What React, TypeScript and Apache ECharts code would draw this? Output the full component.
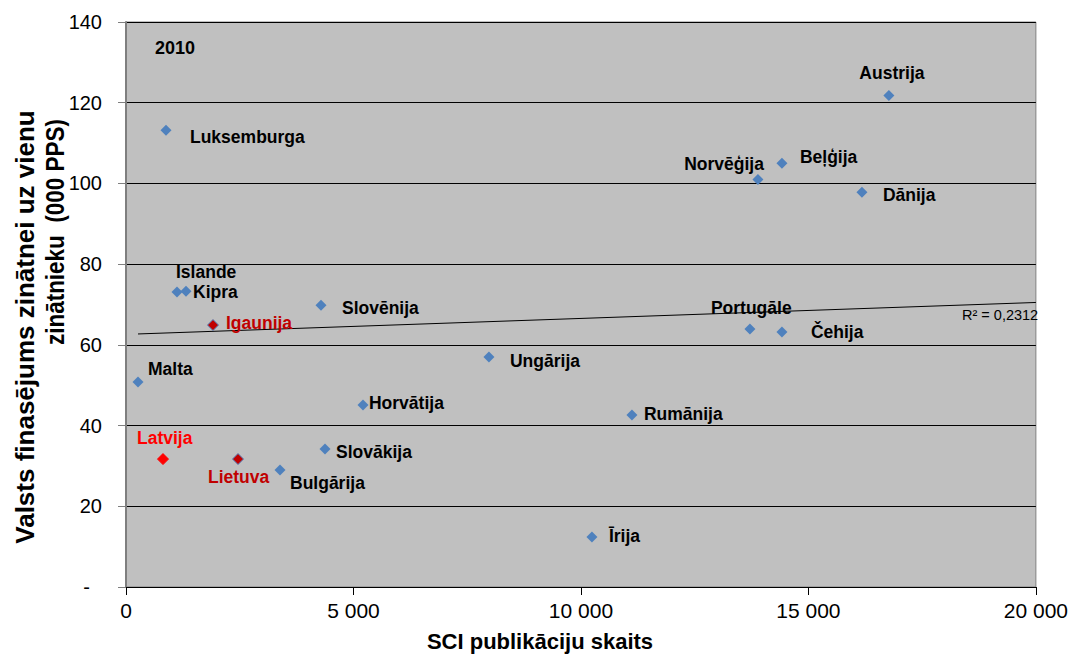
import React, { useEffect, useRef } from "react";
import * as echarts from "echarts";

// ---- data ----
const countries = [
  "Luksemburga", "Austrija", "Beļģija", "Norvēģija", "Dānija",
  "Islande", "Kipra", "Slovēnija", "Igaunija", "Portugāle",
  "Čehija", "Malta", "Ungārija", "Horvātija", "Rumānija",
  "Latvija", "Lietuva", "Slovākija", "Bulgārija", "Īrija",
];
const publications = [
  879, 16769, 14418, 13890, 16176,
  1121, 1319, 4286, 1912, 13714,
  14418, 264, 7978, 5209, 11121,
  813, 2462, 4374, 3385, 10242,
];
const funding = [
  113.2, 121.8, 105.0, 101.0, 97.8,
  73.1, 73.3, 69.8, 64.9, 63.9,
  63.2, 50.8, 57.0, 45.1, 42.6,
  31.7, 31.7, 34.2, 29.0, 12.4,
];
const trendX = [264, 20000];
const trendY = [62.7, 70.5];
const rSquaredText = "R² = 0,2312";
const yearText = "2010";
const xTitle = "SCI publikāciju skaits";
const yTitle1 = "Valsts finasējums zinātnei uz vienu";
const yTitle2 = "zinātnieku  (000 PPS)";
const xTicks = [0, 5000, 10000, 15000, 20000];
const yTicks = [0, 20, 40, 60, 80, 100, 120, 140];

// ---- layout / styles (not data) ----
const labelLayout: Record<string, { dx: number; dy: number; align: string }> = {
  "Luksemburga": { dx: 24, dy: 7, align: "left" },
  "Austrija": { dx: 3, dy: -22, align: "center" },
  "Beļģija": { dx: 18, dy: -6, align: "left" },
  "Norvēģija": { dx: 6, dy: -15, align: "right" },
  "Dānija": { dx: 21, dy: 3, align: "left" },
  "Islande": { dx: -1, dy: -20, align: "left" },
  "Kipra": { dx: 7, dy: 1, align: "left" },
  "Slovēnija": { dx: 21, dy: 3, align: "left" },
  "Igaunija": { dx: 13, dy: -2, align: "left" },
  "Portugāle": { dx: -39, dy: -21, align: "left" },
  "Čehija": { dx: 29, dy: 0, align: "left" },
  "Malta": { dx: 10, dy: -13, align: "left" },
  "Ungārija": { dx: 21, dy: 4, align: "left" },
  "Horvātija": { dx: 6, dy: -2, align: "left" },
  "Rumānija": { dx: 12, dy: -1, align: "left" },
  "Latvija": { dx: -26, dy: -21, align: "left" },
  "Lietuva": { dx: -30, dy: 18, align: "left" },
  "Slovākija": { dx: 11, dy: 3, align: "left" },
  "Bulgārija": { dx: 10, dy: 13, align: "left" },
  "Īrija": { dx: 17, dy: -1, align: "left" },
};
const specialStyle: Record<string, { fill: string; border: string; text: string }> = {
  "Latvija": { fill: "#FF0000", border: "#FF0000", text: "#FF0000" },
  "Lietuva": { fill: "#C00000", border: "#4F81BD", text: "#C00000" },
  "Igaunija": { fill: "#C00000", border: "#4F81BD", text: "#C00000" },
};

const FONT = '"Liberation Sans", Arial, sans-serif';

function fmtThousands(v: number): string {
  return String(v).replace(/\B(?=(\d{3})+(?!\d))/g, " ");
}

export default function App() {
  const ref = useRef<HTMLDivElement>(null);

  useEffect(() => {
    document.body.style.margin = "0";
    if (!ref.current) return;
    const chart = echarts.init(ref.current, null, { renderer: "svg" });

    const points = countries.map((name, i) => {
      const lay = labelLayout[name];
      const sp = specialStyle[name];
      return {
        name,
        value: [publications[i], funding[i]],
        itemStyle: {
          color: sp ? sp.fill : "#4F81BD",
          borderColor: sp ? sp.border : "#4F81BD",
          borderWidth: sp ? 1 : 0,
          opacity: 1,
        },
        label: {
          show: true,
          formatter: name,
          position: "inside",
          align: lay.align,
          verticalAlign: "middle",
          offset: [lay.dx, lay.dy],
          color: sp ? sp.text : "#000000",
          textBorderWidth: 0,
          opacity: 1,
          fontFamily: FONT,
          fontWeight: "bold",
          fontSize: 17.5,
        },
      };
    });

    chart.setOption({
      animation: false,
      backgroundColor: "#FFFFFF",
      grid: {
        left: 126,
        right: 35,
        top: 22,
        bottom: 67,
        show: true,
        backgroundColor: "#C0C0C0",
        borderColor: "#808080",
        borderWidth: 1,
      },
      xAxis: {
        type: "value",
        min: xTicks[0],
        max: xTicks[xTicks.length - 1],
        interval: 5000,
        axisLine: { show: true, onZero: false, lineStyle: { color: "#000000", width: 1 } },
        axisTick: { show: true, inside: false, length: 8, lineStyle: { color: "#000000" } },
        splitLine: { show: false },
        axisLabel: {
          color: "#000000",
          fontFamily: FONT,
          fontSize: 21,
          margin: 13,
          formatter: (v: number) => fmtThousands(v),
        },
      },
      yAxis: {
        type: "value",
        min: yTicks[0],
        max: yTicks[yTicks.length - 1],
        interval: 20,
        axisLine: { show: true, onZero: false, lineStyle: { color: "#7F7F7F", width: 2 } },
        axisTick: { show: true, inside: false, length: 8, lineStyle: { color: "#7F7F7F", width: 1 } },
        splitLine: { show: true, lineStyle: { color: "#000000", width: 1 } },
        axisLabel: {
          color: "#000000",
          fontFamily: FONT,
          fontSize: 20,
          margin: 24,
          formatter: (v: number) => (v === 0 ? "{d|-}" : String(v)),
          rich: { d: { fontFamily: FONT, fontSize: 20, color: "#000000", padding: [0, 12, 0, 0] } },
        },
      },
      series: [
        {
          type: "line",
          data: trendX.map((x, i) => [x, trendY[i]]),
          symbol: "none",
          silent: true,
          lineStyle: { color: "#000000", width: 1 },
          z: 1,
        },
        {
          type: "scatter",
          symbol: "diamond",
          symbolSize: 11,
          data: points,
          z: 3,
        },
      ],
      graphic: [
        {
          type: "text",
          x: 155,
          y: 48,
          style: { text: yearText, font: `bold 18px ${FONT}`, fill: "#000000", align: "left", verticalAlign: "middle" },
        },
        {
          type: "text",
          x: 962,
          y: 315,
          style: { text: rSquaredText, font: `14.5px ${FONT}`, fill: "#000000", align: "left", verticalAlign: "middle" },
        },
        {
          type: "text",
          x: 540,
          y: 641,
          style: { text: xTitle, font: `bold 22px ${FONT}`, fill: "#000000", align: "center", verticalAlign: "middle" },
        },
        {
          type: "text",
          x: 25,
          y: 327,
          rotation: Math.PI / 2,
          style: { text: yTitle1, font: `bold 26px ${FONT}`, fill: "#000000", align: "center", verticalAlign: "middle" },
        },
        {
          type: "text",
          x: 55,
          y: 232,
          rotation: Math.PI / 2,
          scaleX: 0.9,
          style: { text: yTitle2, font: `bold 25px ${FONT}`, fill: "#000000", align: "center", verticalAlign: "middle" },
        },
      ],
    });

    return () => chart.dispose();
  }, []);

  return <div ref={ref} style={{ width: 1071, height: 654 }} />;
}
